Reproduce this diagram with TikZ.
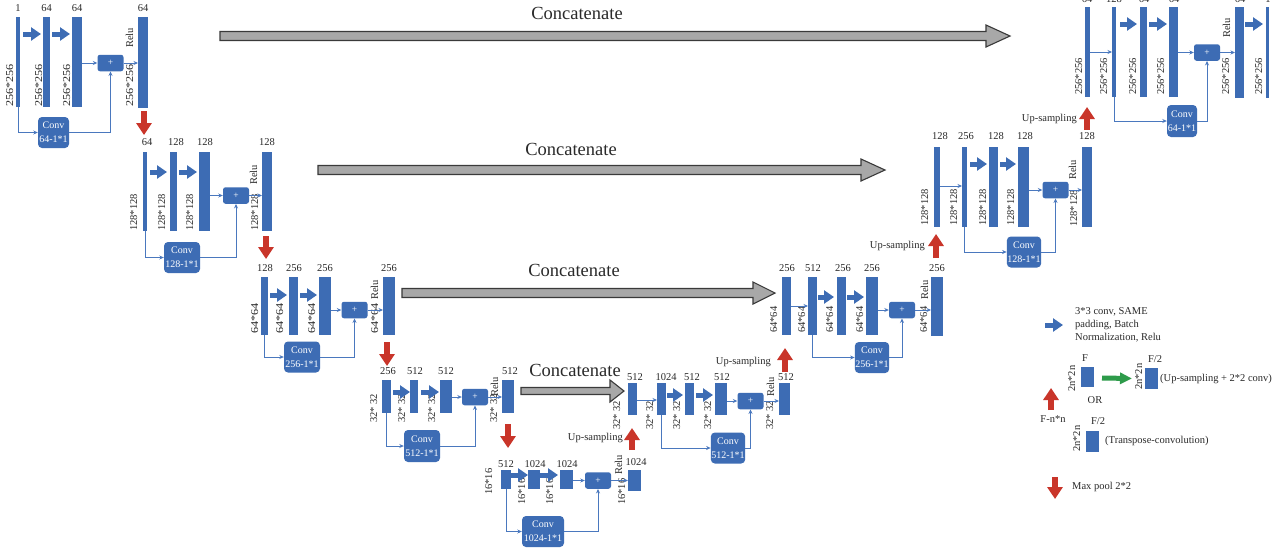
\documentclass[tikz,border=0pt]{standalone}
\usepackage{fontspec}
\usepackage{graphicx}
\setmainfont{Liberation Serif}
\usetikzlibrary{arrows.meta,calc}
\definecolor{ublue}{HTML}{3D6CB4}
\definecolor{lblue}{HTML}{4A78BE}
\definecolor{ured}{HTML}{C9352A}
\definecolor{ugreen}{HTML}{2E9B4A}
\definecolor{ugray}{HTML}{A8A8A8}
\definecolor{cdark}{HTML}{3A3A3A}
\definecolor{ink}{HTML}{2A2A2A}
\newcommand\mkbar[5]{\node[barn, minimum width=#4pt, minimum height=#5pt] (#1) at (#2,#3) {};}
\newcommand\tlab[3]{\node[tl] at (#1,#2) {#3};}
\newcommand\vlab[3]{\node[vl] at (#1,#2) {#3};}
\newcommand\vlabL[3]{\node[vl] at (#1,#2) {\scalebox{1.16}[1]{#3}};}
\newcommand\blkarr[5]{\draw[blk] ($(#1.east |- 0,#3)+(#4,0)$) -- ($(#2.west |- 0,#3)+(-#5,0)$);}
\newcommand\concatarr[6]{\filldraw[fill=ugray, draw=cdark, line width=1.1pt, line join=miter] (#1,#3-#4) -- (#2-#6,#3-#4) -- (#2-#6,#3-#5) -- (#2,#3) -- (#2-#6,#3+#5) -- (#2-#6,#3+#4) -- (#1,#3+#4) -- cycle;}
\begin{document}
\begin{tikzpicture}[x=1pt,y=-1pt, font=\fontsize{10.5}{12}\selectfont, text=ink,
  barn/.style={fill=ublue, inner sep=0pt, outer sep=0pt, anchor=north west},
  tl/.style={anchor=base, inner sep=0pt},
  vl/.style={rotate=90, anchor=base west, inner sep=0pt},
  txt/.style={inner sep=0pt},
  plusbox/.style={fill=ublue, rounded corners=2.5pt, minimum width=26pt, minimum height=16.5pt, inner sep=0pt, text=white, font=\fontsize{9.5}{9.5}\selectfont},
  convbox/.style={fill=ublue, rounded corners=4pt, inner sep=0.5pt, text=white, align=center, font=\fontsize{10}{14}\selectfont},
  tc/.style={draw=lblue, line width=0.9pt, -{Stealth[length=4.5pt,width=4pt]}},
  blk/.style={draw=ublue, line width=5pt, -{Triangle[length=10pt,width=13pt]}},
  redarr/.style={draw=ured, line width=6.5pt, -{Triangle[length=12pt,width=15pt]}},
  garr/.style={draw=ugreen, line width=5pt, -{Triangle[length=12pt,width=11pt]}},
  cclab/.style={inner sep=0pt, font=\fontsize{18.5}{20}\selectfont}]
\useasboundingbox (0,0) rectangle (1288,550);
\fill[white] (0,0) rectangle (1288,550);

% concatenate arrows
\concatarr{220}{1010}{36}{4.5}{11}{24}
\concatarr{318}{885}{170}{4.5}{11}{24}
\concatarr{402}{775}{293}{4.5}{11}{22}
\concatarr{521}{624}{391}{3.5}{11}{14}
\node[cclab] (cc1) at (577,13) {Concatenate};
\node[cclab] (cc2) at (571,149) {Concatenate};
\node[cclab] (cc3) at (574,270) {Concatenate};
\node[cclab] (cc4) at (575,370) {Concatenate};

% ---------- Level 1 left
\mkbar{a1}{16}{17}{4}{90}
\mkbar{a2}{43}{17}{7}{90}
\mkbar{a3}{72}{17}{10}{90}
\mkbar{a4}{138}{17}{10}{91}
\node[plusbox] (pa) at (110.5,63) {+};
\node[convbox, minimum width=31pt, minimum height=31pt] (ca) at (53.5,132.5) {Conv\\64-1*1};
\tlab{18}{11}{1} \tlab{46.5}{11}{64} \tlab{77}{11}{64} \tlab{143}{11}{64}
\vlabL{13}{107}{256*256} \vlabL{42}{107}{256*256} \vlabL{70}{107}{256*256} \vlabL{133}{107}{256*256}
\vlab{133}{48}{Relu}
\blkarr{a1}{a2}{34}{3}{2}
\blkarr{a2}{a3}{34}{2}{2}
\draw[tc] (a3.east |- pa.west) -- (pa.west);
\draw[tc] (pa.east) -- (a4.west |- pa.east);
\draw[tc] (a1.south) |- (ca.west);
\draw[tc] (ca.east) -| (pa.south);
\draw[redarr] (144,111) -- (144,135);

% ---------- Level 2 left
\mkbar{b1}{143}{152}{4}{79}
\mkbar{b2}{170}{152}{7}{79}
\mkbar{b3}{199}{152}{11}{79}
\mkbar{b4}{262}{152}{10}{79}
\node[plusbox] (pb) at (236,195.5) {+};
\node[convbox, minimum width=36pt, minimum height=31pt] (cb) at (182,257.5) {Conv\\128-1*1};
\tlab{147}{145}{64} \tlab{176}{145}{128} \tlab{205}{145}{128} \tlab{267}{145}{128}
\vlab{137}{231}{128*128} \vlab{165}{231}{128*128} \vlab{193}{231}{128*128} \vlab{258}{231}{128*128}
\vlab{257}{185}{Relu}
\blkarr{b1}{b2}{172}{3}{3}
\blkarr{b2}{b3}{172}{2}{2}
\draw[tc] (b3.east |- pb.west) -- (pb.west);
\draw[tc] (pb.east) -- (b4.west |- pb.east);
\draw[tc] (b1.south) |- (cb.west);
\draw[tc] (cb.east) -| (pb.south);
\draw[redarr] (266,236) -- (266,259);

% ---------- Level 3 left
\mkbar{c1}{261}{277}{7}{58}
\mkbar{c2}{289}{277}{9}{58}
\mkbar{c3}{319}{277}{12}{58}
\mkbar{c4}{383}{277}{12}{58}
\node[plusbox] (pc) at (354.5,310) {+};
\node[convbox, minimum width=36pt, minimum height=31pt] (cvc) at (302,357) {Conv\\256-1*1};
\tlab{265}{271}{128} \tlab{294}{271}{256} \tlab{325}{271}{256} \tlab{389}{271}{256}
\vlabL{258}{334}{64*64} \vlabL{283}{334}{64*64} \vlabL{315}{334}{64*64} \vlabL{378}{334}{64*64}
\vlab{378}{300}{Relu}
\blkarr{c1}{c2}{295}{2}{2}
\blkarr{c2}{c3}{295}{2}{2}
\draw[tc] (c3.east |- pc.west) -- (pc.west);
\draw[tc] (pc.east) -- (c4.west |- pc.east);
\draw[tc] (c1.south) |- (cvc.west);
\draw[tc] (cvc.east) -| (pc.south);
\draw[redarr] (387,342) -- (387,366);

% ---------- Level 4 left
\mkbar{d1}{382}{380}{9}{33}
\mkbar{d2}{410}{380}{8}{33}
\mkbar{d3}{440}{380}{12}{33}
\mkbar{d4}{502}{380}{12}{33}
\node[plusbox] (pd) at (475,397) {+};
\node[convbox, minimum width=36pt, minimum height=32pt] (cd) at (422,446) {Conv\\512-1*1};
\tlab{388}{374}{256} \tlab{415}{374}{512} \tlab{446}{374}{512} \tlab{510}{374}{512}
\vlab{377}{423}{32* 32} \vlab{405}{423}{32* 32} \vlab{435}{423}{32* 32} \vlab{497}{423}{32* 32}
\vlab{498}{397}{Relu}
\blkarr{d1}{d2}{392}{2}{0}
\blkarr{d2}{d3}{392}{3}{1}
\draw[tc] (d3.east |- pd.west) -- (pd.west);
\draw[tc] (pd.east) -- (d4.west |- pd.east);
\draw[tc] (d1.south) |- (cd.west);
\draw[tc] (cd.east) -| (pd.south);
\draw[redarr] (508,424) -- (508,448);

% ---------- Level 5
\mkbar{e1}{501}{470}{10}{19}
\mkbar{e2}{528}{470}{12}{19}
\mkbar{e3}{560}{470}{13}{19}
\mkbar{e4}{628}{470}{13}{21}
\node[plusbox] (pe) at (598,480.5) {+};
\node[convbox, minimum width=42pt, minimum height=31pt] (ce) at (543,531.5) {Conv\\1024-1*1};
\tlab{506}{467}{512} \tlab{535}{467}{1024} \tlab{567}{467}{1024} \tlab{636}{465}{1024}
\vlab{492}{495}{16*16} \vlab{525}{505}{16*16} \vlab{553}{505}{16*16} \vlab{625}{505}{16*16}
\vlab{622}{475}{Relu}
\blkarr{e1}{e2}{475}{0}{0}
\blkarr{e2}{e3}{475}{0}{2}
\draw[tc] (e3.east |- pe.west) -- (pe.west);
\draw[tc] (pe.east) -- (e4.west |- pe.east);
\draw[tc] (e1.south) |- (ce.west);
\draw[tc] (ce.east) -| (pe.south);

% ---------- Level 4 right
\mkbar{f1}{628}{383}{9}{32}
\mkbar{f2}{657}{383}{9}{32}
\mkbar{f3}{685}{383}{9}{32}
\mkbar{f4}{715}{383}{12}{32}
\mkbar{f5}{779}{383}{11}{32}
\node[plusbox] (pf) at (750.5,401) {+};
\node[convbox, minimum width=33pt, minimum height=31pt] (cf) at (728,448) {Conv\\512-1*1};
\tlab{635}{380}{512} \tlab{666}{380}{1024} \tlab{692}{380}{512} \tlab{722}{380}{512} \tlab{786}{380}{512}
\vlab{620}{430}{32* 32} \vlab{653}{430}{32* 32} \vlab{680}{430}{32* 32} \vlab{711}{430}{32* 32} \vlab{773}{430}{32* 32}
\vlab{774}{397}{Relu}
\draw[tc] (f1.east |- 0,400) -- (f2.west |- 0,400);
\blkarr{f2}{f3}{395}{1}{2}
\blkarr{f3}{f4}{395}{2}{2}
\draw[tc] (f4.east |- pf.west) -- (pf.west);
\draw[tc] (pf.east) -- (f5.west |- pf.east);
\draw[tc] (f2.south) |- (cf.west);
\draw[tc] (cf.east) -| (pf.south);
\draw[redarr] (632,450) -- (632,428);
\node[txt, anchor=east] (up4) at (623,438) {Up-sampling};
\draw[redarr] (785,372) -- (785,348);
\node[txt, anchor=east] (up3) at (771,362) {Up-sampling};

% ---------- Level 3 right
\mkbar{g1}{782}{277}{9}{58}
\mkbar{g2}{808}{277}{9}{58}
\mkbar{g3}{837}{277}{9}{58}
\mkbar{g4}{866}{277}{12}{58}
\mkbar{g5}{931}{277}{12}{59}
\node[plusbox] (pg) at (902,310) {+};
\node[convbox, minimum width=34pt, minimum height=31pt] (cg) at (872,357.5) {Conv\\256-1*1};
\tlab{787}{271}{256} \tlab{813}{271}{512} \tlab{843}{271}{256} \tlab{872}{271}{256} \tlab{937}{271}{256}
\vlab{777}{333}{64*64} \vlab{805}{333}{64*64} \vlab{833}{333}{64*64} \vlab{863}{333}{64*64} \vlab{927}{333}{64*64}
\vlab{928}{300}{Relu}
\draw[tc] (g1.east |- 0,306) -- (g2.west |- 0,306);
\blkarr{g2}{g3}{297}{1}{3}
\blkarr{g3}{g4}{297}{1}{2}
\draw[tc] (g4.east |- pg.west) -- (pg.west);
\draw[tc] (pg.east) -- (g5.west |- pg.east);
\draw[tc] (g2.south) |- (cg.west);
\draw[tc] (cg.east) -| (pg.south);
\draw[redarr] (936,258) -- (936,234);
\node[txt, anchor=east] (up2) at (925,246) {Up-sampling};

% ---------- Level 2 right
\mkbar{h1}{934}{147}{6}{80}
\mkbar{h2}{962}{147}{5}{80}
\mkbar{h3}{989}{147}{9}{80}
\mkbar{h4}{1018}{147}{11}{80}
\mkbar{h5}{1082}{147}{10}{80}
\node[plusbox] (ph) at (1055.5,190) {+};
\node[convbox, minimum width=34pt, minimum height=31pt] (ch) at (1024,252) {Conv\\128-1*1};
\tlab{940}{139}{128} \tlab{966}{139}{256} \tlab{996}{139}{128} \tlab{1025}{139}{128} \tlab{1087}{139}{128}
\vlab{928}{226}{128*128} \vlab{957}{226}{128*128} \vlab{986}{226}{128*128} \vlab{1014}{226}{128*128} \vlab{1077}{227}{128*128}
\vlab{1076}{180}{Relu}
\draw[tc] (h1.east |- 0,186) -- (h2.west |- 0,186);
\blkarr{h2}{h3}{164}{3}{2}
\blkarr{h3}{h4}{164}{2}{2}
\draw[tc] (h4.east |- ph.west) -- (ph.west);
\draw[tc] (ph.east) -- (h5.west |- ph.east);
\draw[tc] (h2.south) |- (ch.west);
\draw[tc] (ch.east) -| (ph.south);
\draw[redarr] (1087,130) -- (1087,107);
\node[txt, anchor=east] (up1) at (1077,119) {Up-sampling};

% ---------- Level 1 right
\mkbar{i1}{1085}{7}{5}{90}
\mkbar{i2}{1112}{7}{4}{90}
\mkbar{i3}{1140}{7}{7}{90}
\mkbar{i4}{1169}{7}{9}{90}
\mkbar{i5}{1235}{7}{9}{91}
\mkbar{i6}{1266}{7}{3}{91}
\node[plusbox] (pi) at (1207,52.5) {+};
\node[convbox, minimum width=30pt, minimum height=32pt] (ci) at (1182,121) {Conv\\64-1*1};
\tlab{1087}{2}{64} \tlab{1114}{2}{128} \tlab{1144}{2}{64} \tlab{1174}{2}{64} \tlab{1240}{2}{64} \tlab{1268}{2}{1}
\vlab{1082}{95}{256*256} \vlab{1107}{95}{256*256} \vlab{1136}{95}{256*256} \vlab{1164}{95}{256*256} \vlab{1229}{95}{256*256} \vlab{1262}{95}{256*256}
\vlab{1230}{38}{Relu}
\draw[tc] (i1.east |- 0,52) -- (i2.west |- 0,52);
\blkarr{i2}{i3}{24}{4}{3}
\blkarr{i3}{i4}{24}{2}{2}
\blkarr{i5}{i6}{24}{1}{3}
\draw[tc] (i4.east |- pi.west) -- (pi.west);
\draw[tc] (pi.east) -- (i5.west |- pi.east);
\draw[tc] (i2.south) |- (ci.west);
\draw[tc] (ci.east) -| (pi.south);

% ---------- Legend
\draw[blk] (1045,325) -- (1063,325);
\node[txt, anchor=west, align=left, font=\fontsize{10.5}{13}\selectfont] (lg1) at (1075,325) {3*3 conv, SAME\\padding, Batch\\Normalization, Relu};
\mkbar{lf}{1081}{367}{13}{20}
\mkbar{lf2}{1145}{368}{13}{21}
\mkbar{lt}{1086}{431}{13}{21}
\tlab{1085}{361}{F} \tlab{1155}{362}{F/2} \tlab{1098}{424}{F/2}
\vlab{1075}{392}{2n*2n} \vlab{1142}{390}{2n*2n} \vlab{1080}{452}{2n*2n}
\draw[garr] ($(lf.east)+(8,1)$) -- ($(lf2.west)+(-13,0)$);
\node[txt, anchor=west] (lg2) at (1160,379) {(Up-sampling + 2*2 conv)};
\node[txt] (lgor) at (1095,400) {OR};
\draw[redarr] (1051,410) -- (1051,388);
\node[txt] (lg3) at (1053,419) {F-n*n};
\node[txt, anchor=west] (lg4) at (1105,441) {(Transpose-convolution)};
\draw[redarr] (1055,477) -- (1055,499);
\node[txt, anchor=west] (lg5) at (1072,487) {Max pool 2*2};
\end{tikzpicture}
\end{document}
